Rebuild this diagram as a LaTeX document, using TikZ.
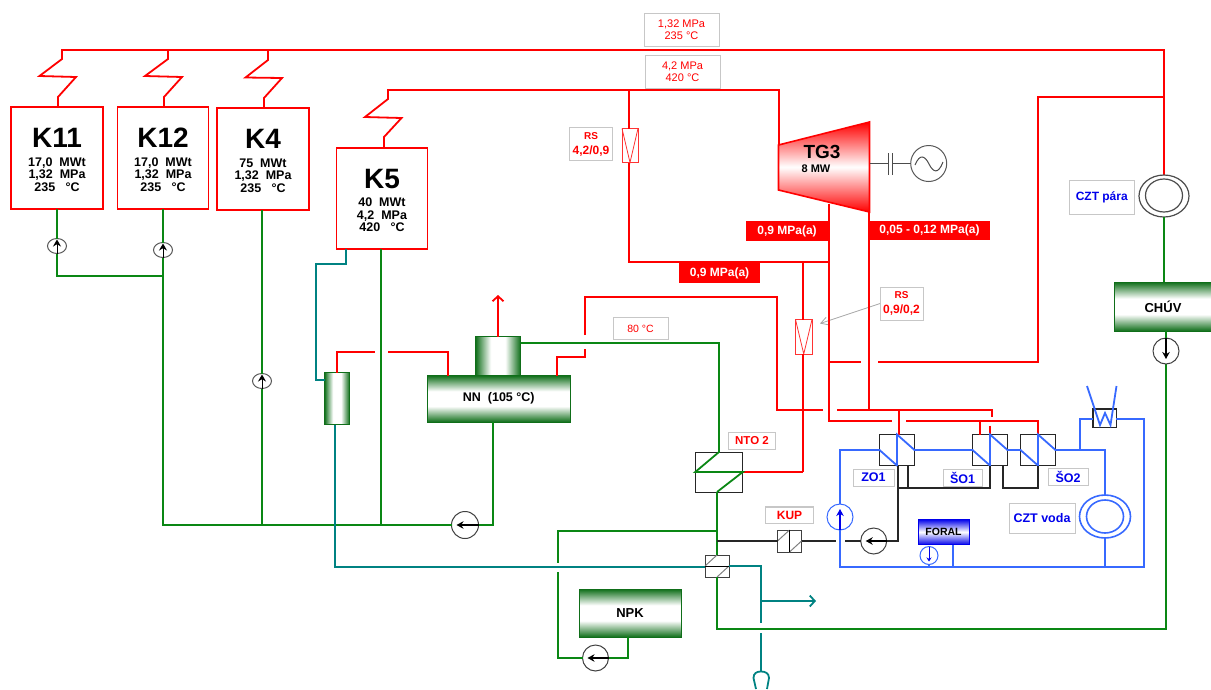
\documentclass[tikz,border=0pt]{standalone}
\usepackage{fontspec}
\setmainfont{Liberation Sans}
\usetikzlibrary{arrows.meta, shapes.geometric}
\definecolor{parared}{RGB}{255,0,0}
\definecolor{vodagreen}{RGB}{10,135,20}
\definecolor{tmavegreen}{RGB}{15,110,25}
\definecolor{tealcol}{RGB}{0,130,130}
\definecolor{czblue}{RGB}{55,105,255}
\definecolor{textblue}{RGB}{0,0,235}
\pgfdeclareverticalshading{tankv}{100bp}{color(0bp)=(tmavegreen); color(25bp)=(tmavegreen); color(42bp)=(white); color(58bp)=(white); color(75bp)=(tmavegreen); color(100bp)=(tmavegreen)}
\pgfdeclarehorizontalshading{tankh}{100bp}{color(0bp)=(tmavegreen); color(25bp)=(tmavegreen); color(42bp)=(white); color(58bp)=(white); color(75bp)=(tmavegreen); color(100bp)=(tmavegreen)}
\tikzset{
	redpipe/.style={draw=parared, line width=1.8pt},
	greenpipe/.style={draw=vodagreen, line width=1.8pt},
	tealpipe/.style={draw=tealcol, line width=1.8pt},
	bluepipe/.style={draw=czblue, line width=1.8pt},
	blackpipe/.style={draw=black!85, line width=1.8pt},
	kotel/.style={draw=parared, line width=1.8pt, minimum width=92pt, minimum height=102pt, inner sep=0pt, outer sep=0pt, align=center, font=\fontsize{12.5}{12.6}\selectfont\bfseries},
	infobox/.style={draw=black!22, line width=0.8pt, fill=white, inner sep=0pt, outer sep=0pt, align=center},
	redtag/.style={fill=parared, text=white, inner sep=0pt, outer sep=0pt, font=\fontsize{12}{13}\selectfont\bfseries},
	vymennik/.style={draw=black!85, line width=1.5pt, inner sep=0pt, outer sep=0pt},
	nadrzv/.style={draw=tmavegreen, line width=1pt, shading=tankv, inner sep=0pt, outer sep=0pt},
	nadrzh/.style={draw=tmavegreen, line width=1pt, shading=tankh, inner sep=0pt, outer sep=0pt},
	minipump/.style={ellipse, draw=black!65, line width=1pt, fill=white, minimum width=19pt, minimum height=15pt, inner sep=0pt, outer sep=0pt},
	pump/.style={circle, draw=black!75, line width=1pt, fill=white, minimum size=26pt, inner sep=0pt, outer sep=0pt},
	sipka/.style={-{Stealth[length=7pt, width=8pt]}, draw=black, line width=1pt, shorten >=1pt},
	velkasipka/.style={-{Stealth[length=7pt, width=7.5pt]}, draw=black, line width=1.2pt, shorten >=5pt},
	redsym/.style={draw=parared!80, line width=0.8pt, inner sep=0pt, outer sep=0pt},
	prsten/.style={ellipse, line width=1.2pt, inner sep=0pt, outer sep=0pt},
	barb/.style={-{Straight Barb[length=5pt, width=11pt]}}
}

\begin{document}
\begin{tikzpicture}[x=1pt, y=-1pt, >=stealth]
	\useasboundingbox (0,0) rectangle (1211,689);

	% ==================== kotle ====================
	\node[kotel] (K11) at (57,158) {{\fontsize{28}{30}\selectfont\rule{0pt}{23pt}K11}\\[6pt]17,0\ \ MWt\\1,32\ \ MPa\\235\ \ \ °C};
	\node[kotel, minimum width=91pt] (K12) at (163,158) {{\fontsize{28}{30}\selectfont\rule{0pt}{23pt}K12}\\[6pt]17,0\ \ MWt\\1,32\ \ MPa\\235\ \ \ °C};
	\node[kotel] (K4) at (263,159) {{\fontsize{28}{30}\selectfont\rule{0pt}{23pt}K4}\\[6pt]75\ \ MWt\\1,32\ \ MPa\\235\ \ \ °C};
	\node[kotel, minimum width=91pt, minimum height=101pt] (K5) at (382,198.5) {{\fontsize{28}{30}\selectfont\rule{0pt}{23pt}K5}\\[6pt]40\ \ MWt\\4,2\ \ MPa\\420\ \ \ °C};

	% parni sberna 1,32 MPa
	\draw[redpipe] (K11.north -| 58,0) -- (58,97) -- (76,77) -- (39.5,76) -- (62,59) -- (62,50) -- (1164,50) -- (1164,175);
	\draw[redpipe] (K12.north -| 164,0) -- (164,97) -- (182,77) -- (145,76) -- (168,59) -- (168,50);
	\draw[redpipe] (K4.north -| 264,0) -- (264,98) -- (282,78) -- (245.5,77.5) -- (268,60) -- (268,50);
	% parni sberna 4,2 MPa
	\draw[redpipe] (K5.north -| 384,0) -- (384,137) -- (401.5,118) -- (365,117) -- (388,99) -- (388,90) -- (779,90) -- (779,145);

	\node[infobox, minimum width=75pt, minimum height=32.5pt, text=parared, font=\fontsize{11}{12.5}\selectfont] (L132) at (681.5,29.75) {1,32 MPa\\235 °C};
	\node[infobox, minimum width=75pt, minimum height=33pt, text=parared, font=\fontsize{11}{12.5}\selectfont] (L42) at (682.5,71.5) {4,2 MPa\\420 °C};

	% ==================== napajeci voda ====================
	\node[minipump] (P11) at (57,246) {};
	\node[minipump] (P12) at (163,250) {};
	\node[minipump] (P4) at (262,381) {};
	\node[pump, minimum size=27pt] (PNN) at (465,525) {};
	\coordinate (sber) at (163,525);
	\draw[greenpipe] (K11.south) -- (P11.north);
	\draw[greenpipe] (P11.south) -- (57,276) -- (163,276);
	\draw[greenpipe] (K12.south) -- (P12.north);
	\draw[greenpipe] (P12.south) -- (sber) -- (PNN.west);
	\draw[greenpipe] (K4.south -| P4.north) -- (P4.north);
	\draw[greenpipe] (P4.south) -- (262,525);
	\draw[greenpipe] (K5.south -| 381,0) -- (381,525);
	\foreach \p in {P11,P12,P4} \draw[sipka] (\p.south) -- (\p.north);
	\draw[velkasipka] (PNN.east) -- (PNN.west);

	% ==================== napajeci nadrz ====================
	\node[nadrzv, minimum width=142.5pt, minimum height=46.5pt, font=\fontsize{12.5}{14}\selectfont\bfseries] (NN) at (498.75,398.75) {NN\ \ (105 °C)};
	\node[nadrzh, minimum width=45pt, minimum height=38.5pt] (Dome) at (498,356) {};
	\node[nadrzh, minimum width=25pt, minimum height=52pt] (OHR) at (337,398.5) {};
	\draw[greenpipe] (PNN.east) -- (493,525) -- (NN.south -| 493,0);
	\draw[redpipe, barb] (Dome.north) -- (498,295);
	\draw[redpipe] (OHR.north) -- (337,352) -- (375,352);
	\draw[redpipe] (388,352) -- (448,352) -- (NN.north -| 448,0);
	\draw[redpipe] (NN.north -| 557,0) -- (557,357) -- (585,357) -- (585,349);
	\draw[redpipe] (585,335) -- (585,297) -- (777,297) -- (777,410) -- (822.5,410);
	\draw[tealpipe] (K5.south -| 346,0) -- (346,264) -- (316,264) -- (316,380) -- (OHR.west |- 0,380);
	\draw[tealpipe] (OHR.south -| 335,0) -- (335,567) -- (705,567);
	\node[infobox, minimum width=55pt, minimum height=22pt, text=parared, font=\fontsize{10.5}{12}\selectfont] (L80) at (640.5,328.5) {80 °C};

	% ==================== turbina ====================
	\draw[draw=parared, line width=1.6pt, top color=parared, bottom color=parared, middle color=white] (778.5,145) -- (869.5,122) -- (869.5,212) -- (778.5,190) -- cycle;
	\node[inner sep=0pt, font=\fontsize{19}{20}\selectfont\bfseries] (TG3) at (822,152) {TG3};
	\node[inner sep=0pt, font=\fontsize{11}{12}\selectfont\bfseries] (TGmw) at (816,169) {8 MW};
	\node[circle, draw=black!65, line width=1pt, minimum size=36pt, inner sep=0pt, outer sep=0pt] (Gen) at (928.7,163.5) {};
	\draw[black!70, line width=1pt] (869.5,163.5) -- (888.5,163.5);
	\draw[black!70, line width=1pt] (888.5,153) -- (888.5,175);
	\draw[black!70, line width=1pt] (892.5,153) -- (892.5,175);
	\draw[black!70, line width=1pt] (892.5,163.5) -- (Gen.west);
	\draw[black!70, line width=1pt] (915,165) .. controls (920,153) and (925,156) .. (929,164) .. controls (933,172) and (938,175) .. (943,162);

	% ==================== redukcni stanice a odbery ====================
	\node[redsym, minimum width=16pt, minimum height=34pt] (RS1) at (630,145.5) {};
	\draw[redsym] (RS1.north west) -- (RS1.south) -- (RS1.north east);
	\node[redsym, minimum width=16.5pt, minimum height=34.5pt] (RS2) at (803.75,336.75) {};
	\draw[redsym] (RS2.north west) -- (RS2.south) -- (RS2.north east);
	\node[infobox, minimum width=43pt, minimum height=33pt, text=parared, font=\fontsize{12}{15}\selectfont\bfseries] (LRS1) at (591,144) {{\fontsize{10}{12}\selectfont RS}\\4,2/0,9};
	\node[infobox, minimum width=43pt, minimum height=33pt, text=parared, font=\fontsize{12}{15}\selectfont\bfseries] (LRS2) at (901.5,303.5) {{\fontsize{10}{12}\selectfont RS}\\0,9/0,2};
	\draw[black!35, line width=0.8pt, -{Straight Barb[length=7pt, width=8pt]}] (LRS2.west) -- (820,323.5);

	\draw[redpipe] (629,90) -- (RS1.north -| 629,0);
	\draw[redpipe] (RS1.south -| 629,0) -- (629,262) -- (829,262);
	\draw[redpipe] (829,204) -- (829,421) -- (892,421);
	\draw[redpipe] (803,262) -- (RS2.north -| 803,0);
	\draw[redpipe] (RS2.south -| 803,0) -- (803,472);
	\draw[redpipe] (869,212) -- (869,410);
	\draw[redpipe] (829,362) -- (861,362);
	\draw[redpipe] (878,362) -- (1038,362) -- (1038,97) -- (1164,97);
	\draw[redpipe] (837,410) -- (992,410) -- (992,416.5);

	\node[redtag, minimum width=82pt, minimum height=20pt] (T1) at (787,231) {0,9 MPa(a)};
	\node[redtag, minimum width=81pt, minimum height=20pt] (T2) at (719.5,273) {0,9 MPa(a)};
	\node[redtag, minimum width=120pt, minimum height=19pt] (T3) at (929.5,230) {0,05 - 0,12 MPa(a)};

	% ==================== NTO 2 ====================
	\node[vymennik, line width=1pt, minimum width=47.5pt, minimum height=40pt] (NTO) at (719,472) {};
	\node[infobox, minimum width=47pt, minimum height=17pt, text=parared, font=\fontsize{11.5}{13}\selectfont\bfseries] (LNTO) at (752,440.5) {NTO 2};
	\draw[redpipe] (NTO.east) -- (803,472);
	\draw[greenpipe] (Dome.east |- 0,343) -- (719,343) -- (NTO.north) -- (NTO.west) -- (NTO.east) -- (717,492);

	% ==================== KUP a vymenik ====================
	\node[vymennik, draw=black!75, line width=1pt, minimum width=24pt, minimum height=22pt] (VYM) at (717,566) {};
	\node[vymennik, draw=black!75, line width=1pt, minimum width=24pt, minimum height=22pt] (KUP) at (789.5,541) {};
	\node[infobox, line width=1.2pt, minimum width=48pt, minimum height=16.5pt, text=parared, font=\fontsize{12}{14}\selectfont\bfseries] (LKUP) at (789.5,515.25) {KUP};
	\draw[black!50, line width=1pt] (VYM.west) -- (VYM.north);
	\draw[black!50, line width=1pt] (VYM.south) -- (VYM.east);
	\draw[black, line width=1pt] (VYM.west) -- (VYM.east);
	\draw[black!50, line width=1pt] (KUP.west) -- (KUP.north);
	\draw[black!50, line width=1pt] (KUP.south) -- (KUP.east);
	\draw[black, line width=1pt] (KUP.north) -- (KUP.south);

	\draw[greenpipe] (717,492) -- (VYM.north);
	\draw[greenpipe] (VYM.south) -- (717,629) -- (1166,629) -- (1166,364);
	\node[nadrzv, minimum width=102pt, minimum height=48pt, font=\fontsize{13}{15}\selectfont\bfseries] (NPK) at (630,613) {NPK};
	\node[pump] (PNPK) at (595.5,658) {};
	\draw[greenpipe] (717,531) -- (558,531) -- (558,563);
	\draw[greenpipe] (558,572) -- (558,658) -- (PNPK.west);
	\draw[greenpipe] (PNPK.east) -- (628,658) -- (NPK.south -| 628,0);
	\draw[velkasipka] (PNPK.east) -- (PNPK.west);

	\draw[tealpipe] (VYM.east) -- (761,566) -- (761,623);
	\draw[tealpipe] (761,633) -- (761,671);
	\draw[tealpipe, barb] (761,601) -- (816,601);
	\draw[tealpipe] (756,689) -- (753.5,678) .. controls (753.5,673) and (757,671.5) .. (761,671.5) .. controls (765,671.5) and (769,673) .. (769,678) -- (767,689);

	% ==================== CZT para ====================
	\node[prsten, draw=black!70, minimum width=50pt, minimum height=42pt] (CZTP) at (1164,196) {};
	\node[prsten, draw=black!70, minimum width=37pt, minimum height=33pt] (CZTPin) at (1164,195.5) {};
	\node[infobox, minimum width=64.5pt, minimum height=34pt, text=textblue, font=\fontsize{12}{14}\selectfont\bfseries] (LCZTP) at (1101.75,197) {CZT pára};
	\node[nadrzv, minimum width=96.5pt, minimum height=49pt, font=\fontsize{13}{15}\selectfont\bfseries] (CHUV) at (1163,306.5) {CHÚV};
	\node[pump] (PCH) at (1166,351) {};
	\draw[greenpipe] (CZTP.south) -- (CZTP.south |- CHUV.north);
	\draw[greenpipe] (CHUV.south -| PCH.north) -- (PCH.north);
	\draw[velkasipka] (PCH.north) -- (PCH.south);

	% ==================== CZT voda ====================
	\node[vymennik, minimum width=35pt, minimum height=31pt] (ZO1) at (897,450) {};
	\node[vymennik, minimum width=35pt, minimum height=31pt] (SO1) at (990,450) {};
	\node[vymennik, minimum width=35pt, minimum height=31pt] (SO2) at (1038,450) {};
	\node[vymennik, minimum width=23.5pt, minimum height=18.5pt] (WK) at (1104.5,418) {};
	\node[pump, draw=czblue] (PB) at (840,517) {};
	\node[pump] (PK) at (873.7,541) {};
	\node[draw=textblue, line width=1pt, top color=textblue, bottom color=textblue, middle color=white, minimum width=51pt, minimum height=25.5pt, inner sep=0pt, outer sep=0pt, font=\fontsize{10.5}{12}\selectfont\bfseries] (FORAL) at (943.5,532) {FORAL};
	\node[circle, draw=czblue, line width=1pt, fill=white, minimum size=18pt, inner sep=0pt, outer sep=0pt] (PF) at (929,555.5) {};
	\node[prsten, draw=czblue, line width=1.6pt, minimum width=51pt, minimum height=43pt] (CZTV) at (1105,516.5) {};
	\node[prsten, draw=czblue, line width=1.6pt, minimum width=37pt, minimum height=33pt] (CZTVin) at (1105,516.5) {};

	% parni privody
	\draw[redpipe] (906,421) -- (1038,421) -- (SO2.north);
	\draw[redpipe] (980,421) -- (980,435);
	\draw[redpipe] (990,425.5) -- (SO1.north);
	\draw[redpipe] (899,410) -- (ZO1.north -| 899,0);

	% modry okruh
	\draw[bluepipe] (PB.north) -- (840,450) -- (ZO1.west) -- (ZO1.south) -- (ZO1.north) -- (ZO1.east) -- (SO1.west) -- (SO1.south) -- (SO1.north) -- (SO1.east) -- (SO2.west) -- (SO2.south) -- (SO2.north) -- (SO2.east) -- (1105,450) -- (CZTV.north);
	\draw[bluepipe] (PB.south) -- (840,567) -- (1144,567) -- (1144,419) -- (WK.east |- 0,419);
	\draw[bluepipe] (1080,450) -- (1080,419) -- (WK.west |- 0,419);
	\draw[bluepipe] (CZTV.south) -- (1105,567);
	\draw[bluepipe] (FORAL.south -| 953,0) -- (953,567);
	\draw[bluepipe] (PF.south) -- (929,567);
	\draw[bluepipe] (1087,386) -- (1100,425) -- (1105,413) -- (1110.5,425) -- (1116.5,386);
	\draw[-{Stealth[length=7pt, width=7.5pt]}, draw=textblue, line width=1.2pt, shorten >=5pt] (PB.south) -- (PB.north);
	\draw[-{Stealth[length=4pt, width=5pt]}, draw=textblue, line width=1pt, shorten >=3pt] (PF.north) -- (PF.south);

	% kondenzat
	\draw[blackpipe] (VYM.north |- KUP.west) -- (KUP.west);
	\draw[blackpipe] (KUP.east) -- (836,541);
	\draw[blackpipe] (845,541) -- (PK.west);
	\draw[blackpipe] (PK.east) -- (898,541) -- (ZO1.south -| 898,0);
	\draw[blackpipe] (ZO1.south -| 908,0) -- (908,488);
	\draw[blackpipe] (898,488) -- (990,488) -- (SO1.south);
	\draw[blackpipe] (SO1.south -| 1003,0) -- (1003,488) -- (1038,488) -- (SO2.south);
	\draw[velkasipka] (PK.east) -- (PK.west);

	\node[infobox, minimum width=41pt, minimum height=17pt, text=textblue, font=\fontsize{12.5}{14}\selectfont\bfseries] (LZO1) at (873.5,477.5) {ZO1};
	\node[infobox, minimum width=39pt, minimum height=17pt, text=textblue, font=\fontsize{12.5}{14}\selectfont\bfseries] (LSO1) at (962.5,477.5) {ŠO1};
	\node[infobox, minimum width=40pt, minimum height=17pt, text=textblue, font=\fontsize{12.5}{14}\selectfont\bfseries] (LSO2) at (1068,476.5) {ŠO2};
	\node[infobox, minimum width=66pt, minimum height=30pt, text=textblue, font=\fontsize{12.5}{14}\selectfont\bfseries] (LCZTV) at (1042,518) {CZT voda};
\end{tikzpicture}
\end{document}
